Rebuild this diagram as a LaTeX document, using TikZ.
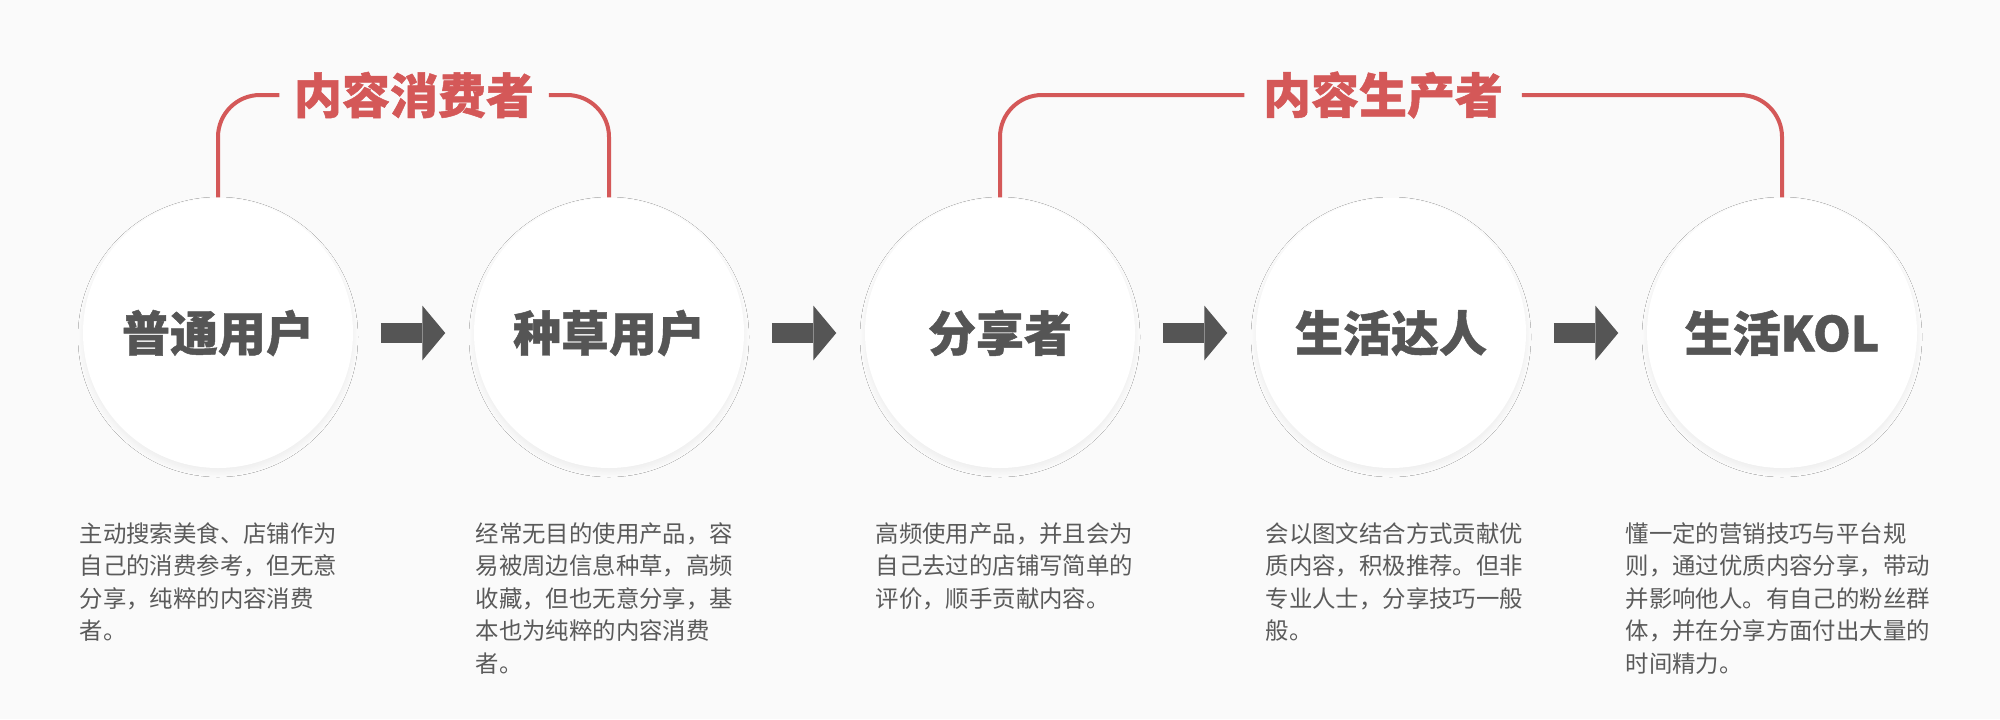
\documentclass[tikz,border=0pt]{standalone}
\usepackage{fontspec}
\setmainfont{Noto Sans CJK SC}[BoldFeatures={FakeBold=1}]
\usetikzlibrary{arrows.meta,shadows.blur,positioning}
\definecolor{bgcol}{HTML}{FAFAFA}
\definecolor{titlecol}{HTML}{555555}
\definecolor{desccol}{HTML}{5A5A5A}
\definecolor{redcol}{HTML}{D45858}
\tikzset{every picture/.style={line width=0.75pt}}

\begin{document}
\begin{tikzpicture}[x=0.5pt,y=-0.5pt,
    stage/.style={circle, fill=white, minimum size=135pt, inner sep=0pt,
      text=titlecol, font=\fontsize{24pt}{28pt}\selectfont\bfseries,
      blur shadow={shadow xshift=0pt, shadow yshift=-2pt,
        shadow blur radius=2.5pt, shadow blur steps=8, shadow opacity=5}},
    flow/.style={draw=titlecol, line width=10pt,
      -{Triangle[length=11.5pt, width=27.5pt, line width=0pt]},
      shorten <=13.5pt, shorten >=14pt},
    group/.style={draw=redcol, line width=2pt, rounded corners=21pt},
    grouplabel/.style={text=redcol, font=\fontsize{24pt}{28pt}\selectfont\bfseries,
      inner xsep=7pt},
    desc/.style={anchor=base west, text width=160pt, align=left, inner sep=0pt,
      text=desccol, font=\fontsize{11.7pt}{16.25pt}\selectfont}]
    % 背景
    \fill[bgcol] (0,0) rectangle (2000,719);

    % 五个阶段
    \foreach \name/\x/\txt in {c1/218/普通用户, c2/609/种草用户, c3/1000/分享者,
        c4/1391/生活达人, c5/1782/生活KOL}
      \node[stage] (\name) at (\x,333) {\txt};

    % 阶段之间的箭头
    \foreach \a/\b in {c1/c2, c2/c3, c3/c4, c4/c5}
      \draw[flow] (\a) -- (\b);

    % 分组括线
    \node[grouplabel] (g1) at (414,95) {内容消费者};
    \node[grouplabel, inner xsep=9pt, xshift=-2pt] (g2) at (1387,95) {内容生产者};
    \draw[group] (c1.north) |- (g1.west);
    \draw[group] (g1.east) -| (c2.north);
    \draw[group] (c3.north) |- (g2.west);
    \draw[group] (g2.east) -| (c5.north);

    % 说明文字
    \node[desc] (d1) at (79,542) {主动搜索美食、店铺作为\\自己的消费参考，但无意\\分享，纯粹的内容消费\\者。};
    \node[desc] (d2) at (475,542) {经常无目的使用产品，容\\易被周边信息种草，高频\\收藏，但也无意分享，基\\本也为纯粹的内容消费\\者。};
    \node[desc] (d3) at (875,542) {高频使用产品，并且会为\\自己去过的店铺写简单的\\评价，顺手贡献内容。};
    \node[desc] (d4) at (1265,542) {会以图文结合方式贡献优\\质内容，积极推荐。但非\\专业人士，分享技巧一般\\般。};
    \node[desc] (d5) at (1625,542) {懂一定的营销技巧与平台规\\则，通过优质内容分享，带动\\并影响他人。有自己的粉丝群\\体，并在分享方面付出大量的\\时间精力。};
\end{tikzpicture}
\end{document}
